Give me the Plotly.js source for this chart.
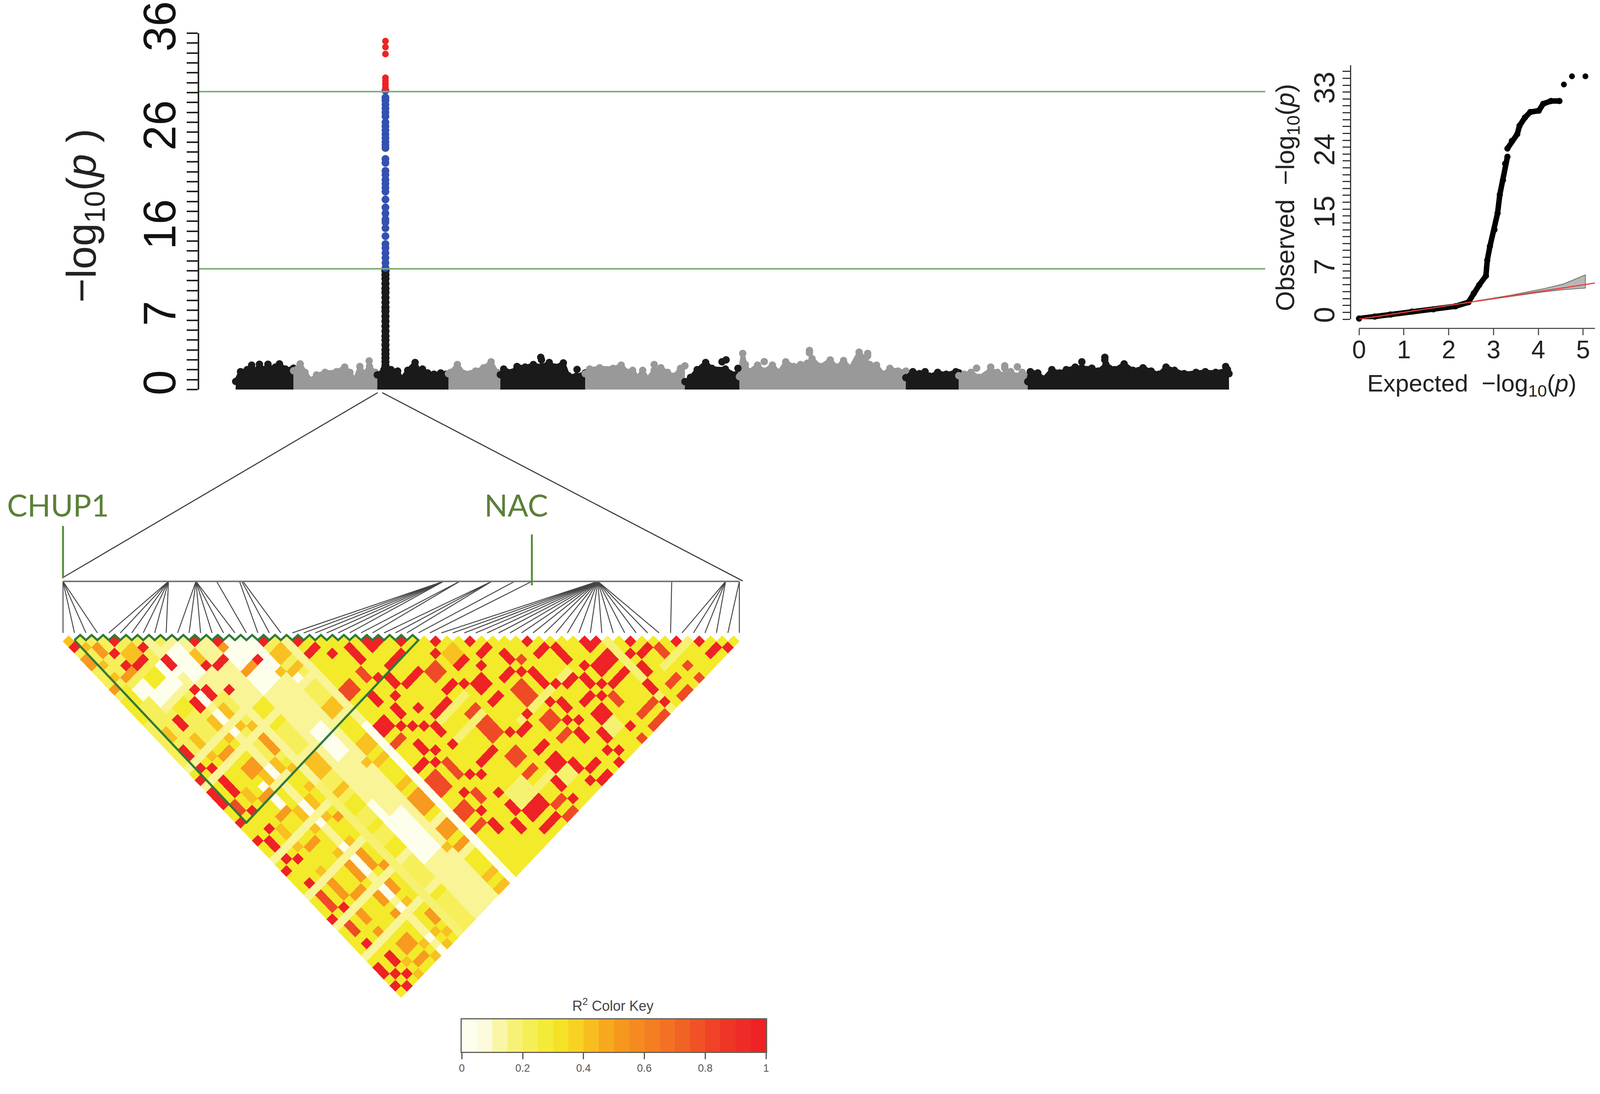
<!DOCTYPE html>
<html>
<head>
<meta charset="utf-8">
<script src="https://cdn.plot.ly/plotly-3.0.1.min.js"></script>
<style>html,body{margin:0;padding:0;background:#fff;overflow:hidden}</style>
</head>
<body>
<div id="chart"></div>
<script>
const W = 4317, H = 2800;
const FONT = '"Liberation Sans", Arial, sans-serif';

// Manhattan plot: top of the point cloud per chromosome (position, -log10 p)
const chrStart = [0, 15.6, 38.2, 57.4, 71.4, 94.3, 121.2, 135.9, 180.8, 195.1, 213.7];
const chrEnd = [15.6, 38.2, 57.4, 71.4, 94.3, 121.2, 135.9, 180.8, 195.1, 213.7, 268];
const chr1Pos = [0, 1.3, 3.1, 4.3, 5.3, 6.4, 7.6, 8.7, 9.8, 10.7, 11.8, 13.4, 14.7, 15.6];
const chr1Top = [.82, 1.81, 2.01, 2.47, 1.87, 2.56, 2.01, 2.56, 2.07, 2.27, 2.6, 2.07, 1.94, 2.16];
const chr2Pos = [15.6, 17.4, 18.7, 20.3, 21.8, 24.1, 27.2, 29.4, 30.8, 32.1, 33.5, 34.6, 36.1, 37.7, 38.2];
const chr2Top = [1.9, 2.6, 1.74, .95, 1.48, 1.74, 1.81, 2.27, 1.74, .95, 2.33, 1.61, 2.33, 1.74, 1.5];
const chr3Pos = [38.2, 40, 41.9, 43.7, 44.8, 46.4, 48.4, 49.5, 50.4, 51.8, 53.5, 55.3, 56.7, 57.4];
const chr3Top = [1.48, 2.0, 2.01, 1.87, 1.08, 1.94, 2.73, 1.87, 2.07, 1.68, 1.55, 1.68, 1.55, 1.5];
const chr4Pos = [57.4, 58, 59.8, 61.6, 64.7, 66.9, 68.9, 70.5, 71.4];
const chr4Top = [1.6, 1.74, 2.53, 1.61, 1.87, 2.2, 2.8, 1.74, 1.55];
const chr5Pos = [71.4, 72.3, 74.5, 75.9, 78.1, 80.3, 82.6, 84.6, 86.1, 88.4, 89.7, 91.9, 94.3];
const chr5Top = [1.5, 2.07, 1.74, 2.33, 2.27, 2.53, 2.33, 2.73, 2.27, 2.69, 1.41, 1.35, 1.68];
const chr6Pos = [94.3, 95.5, 98.2, 101.8, 104, 105.8, 107.1, 108.5, 109.8, 111.1, 112.9, 114.7, 116.5, 118.3, 120, 121.2];
const chr6Top = [1.6, 2.07, 2.2, 2.14, 2.47, 1.74, 1.94, 1.22, 1.94, 1.08, 1.94, 2.2, 1.74, 1.35, 2.14, 2.4];
const chr7Pos = [121.2, 122.7, 124.5, 126.8, 128.5, 132.1, 134.8, 135.9];
const chr7Top = [.8, 1.22, 2.01, 2.73, 2.14, 2.07, 1.48, 1.3];
const chr8Pos = [135.9, 136.8, 137.5, 138.5, 140.8, 142.6, 144.8, 146.6, 148.4, 150.6, 152.4, 154.2, 155.5, 157.7, 160.4, 162.2, 164, 165.8, 168.2, 169.8, 171.1, 172.9, 174.7, 176.5, 178.7, 180.8];
const chr8Top = [1.3, 3.65, 2.53, 1.81, 2.47, 1.87, 2.47, 1.74, 2.8, 2.33, 2.53, 2.66, 3.12, 2.33, 2.99, 2.27, 2.93, 2.14, 3.78, 3.06, 2.53, 2.47, 1.55, 2.14, 1.87, 1.87];
const chr9Pos = [180.8, 182.7, 184.5, 186, 187.2, 189.4, 191.7, 194.3, 195.1];
const chr9Top = [1.2, 1.81, 1.61, 1.81, 1.35, 1.74, 1.55, 1.81, 1.7];
const chr10Pos = [195.1, 196.6, 198.4, 200.6, 203.7, 205.5, 207.3, 209.1, 210.9, 212.2, 213.7];
const chr10Top = [1.4, 1.55, 1.74, 1.22, 2.01, 1.74, 1.48, 1.81, 1.35, 1.74, 1.4];
const chr11Pos = [213.7, 214.4, 216.4, 218, 220.2, 222.3, 224.1, 226.5, 228.3, 231, 232.7, 234.8, 237.2, 239.7, 242.1, 244.8, 247, 249.1, 251, 253.3, 255.9, 259.1, 261.6, 264.4, 267.6, 268];
const chr11Top = [.8, 1.81, 1.68, 1.08, 2.01, 1.68, 2.01, 2.27, 2.2, 2.16, 1.87, 2.53, 2.01, 2.6, 1.94, 2.2, 1.87, 1.55, 2.27, 1.94, 1.61, 1.74, 1.81, 1.74, 2.01, 1.6];
const chrPos = [chr1Pos, chr2Pos, chr3Pos, chr4Pos, chr5Pos, chr6Pos, chr7Pos, chr8Pos, chr9Pos, chr10Pos, chr11Pos];
const chrTop = [chr1Top, chr2Top, chr3Top, chr4Top, chr5Top, chr6Top, chr7Top, chr8Top, chr9Top, chr10Top, chr11Top];
const chrColor = ['#1a1a1a', '#999999'];

// isolated points above the cloud
const blackOutPos = [82.3, 82.5, 92.1, 131.2, 132.3, 135.5, 228.3, 234.5, 234.5, 267.1];
const blackOutVal = [3.26, 3.0, 2.03, 2.8, 3.0, 2.14, 2.8, 3.26, 3.0, 2.33];
const grayOutPos = [36, 112.9, 142.6, 154.8, 170.5, 199.9, 203.7, 207.5, 210.9, 154.8, 170.5, 207.5];
const grayOutVal = [2.89, 2.53, 2.82, 3.95, 3.65, 2.16, 2.27, 2.16, 2.3, 3.7, 3.4, 2.4];

// the peak on chromosome 3
const peakPos = 40.4;
const peakRed = [35.2, 34.6, 33.9, 31.5, 31.2, 30.9, 30.6, 30.4];
const peakBlue = [30.2, 29.5, 29.2, 28.8, 28.4, 28, 27.6, 27, 26.6, 26.2, 25.8, 25.4, 25, 24.7, 24.4, 23.3, 22.9, 22.1, 21.7, 21.2, 20.8, 20.4, 20, 19.2, 18.4, 17.8, 17.2, 16.9, 16.3, 15.5, 14.7, 14.3, 13.8, 13.3, 12.8, 12.3];
const peakBlack = [12, 11.6, 11.2, 10.7, 10.2, 9.8, 9.3, 8.8, 8.3, 7.9, 7.4, 6.9, 6.4, 5.9, 5.4, 5, 4.5, 4, 3.6, 3.2, 2.8, 2.4, 2, 1.6, 1.2];
const thresholds = [30.1, 12.2];
const manhattanTicks = [0, 7, 16, 26, 36];

// QQ plot
const qqExp = [0, .35, .7, 1.18, 1.66, 2.15, 2.44, 2.56, 2.68, 2.83, 2.86, 2.92, 3.02, 3.09, 3.14, 3.21, 3.26, 3.31, null, 3.31, 3.41, 3.53, 3.58, 3.7, 3.82, 4.01, 4.11, 4.28, 4.47];
const qqObs = [.1, .38, .68, 1.1, 1.44, 1.88, 2.47, 3.77, 4.97, 6.3, 8.56, 10.6, 13, 15.4, 18.1, 20.2, 22.6, 23.6, null, 24.8, 25.9, 26.9, 28.1, 29.3, 30.1, 30.3, 31.3, 31.7, 31.7];
const qqTopExp = [4.57, 4.75, 5.05];
const qqTopObs = [34.1, 35.3, 35.3];
const ciExp = [2.6, 3.4, 4.08, 4.57, 5.05, 5.05, 4.57, 4.08, 3.4, 2.6];
const ciObs = [2.65, 3.5, 4.38, 5.14, 6.44, 4.52, 4.3, 3.95, 3.32, 2.57];
const nullLineX = [-.18, 5.27];
const nullLineY = [-.18, 5.27];
const qqYTicks = [0, 7, 15, 24, 33];
const qqXTicks = [0, 1, 2, 3, 4, 5];

// LD triangle: blocks of SNP pairs [firstA, lastA, firstB, lastB], later groups overwrite earlier ones
const snpCount = 60;
const lightBlocks = [[0, 19, 1, 59]];
const paleBlocks = [[7, 7, 8, 59], [10, 10, 11, 34], [19, 19, 20, 33], [11, 12, 13, 22], [13, 16, 23, 37], [8, 9, 10, 18], [5, 6, 13, 14], [0, 9, 22, 22], [0, 18, 25, 25], [6, 18, 31, 31], [0, 10, 37, 37], [0, 10, 43, 43], [0, 18, 48, 48], [0, 18, 53, 53], [3, 10, 14, 15], [13, 16, 51, 59], [16, 16, 38, 50], [13, 13, 38, 40], [14, 15, 38, 43]];
const whiteBlocks = [[7, 7, 17, 18], [7, 7, 20, 21], [7, 7, 23, 23], [7, 7, 29, 30], [7, 7, 35, 36], [7, 7, 38, 38], [7, 7, 42, 42], [7, 7, 44, 46], [7, 7, 49, 50], [7, 7, 52, 52], [7, 7, 57, 57], [7, 7, 59, 59], [19, 19, 34, 59], [13, 16, 15, 22], [13, 13, 41, 50], [14, 15, 44, 50], [14, 15, 30, 34], [8, 9, 14, 15], [17, 17, 24, 24], [5, 5, 30, 33], [3, 6, 13, 14], [6, 9, 11, 13], [2, 3, 11, 12]];
const yellowBlocks = [[20, 58, 21, 59], [0, 6, 23, 59], [8, 9, 30, 59], [11, 12, 23, 26], [4, 5, 15, 17], [4, 5, 11, 12], [1, 1, 10, 12], [0, 0, 11, 14], [11, 12, 39, 40], [11, 12, 43, 43], [11, 12, 46, 48], [11, 12, 53, 54], [17, 18, 30, 59]];
const rightPaleBlocks = [[26, 30, 40, 40], [25, 30, 43, 43], [26, 28, 52, 54], [40, 41, 55, 56], [32, 33, 55, 56], [47, 47, 48, 59], [33, 38, 47, 47], [50, 54, 55, 55], [40, 41, 47, 47], [29, 32, 54, 54], [10, 10, 35, 59]];
const goldBlocks = [[0, 0, 1, 1], [1, 1, 3, 3], [1, 1, 6, 6], [4, 5, 7, 8], [1, 1, 8, 8], [10, 10, 13, 14], [17, 18, 20, 21], [16, 16, 22, 22], [17, 18, 23, 23], [8, 8, 20, 21], [6, 6, 20, 21], [8, 8, 23, 23], [9, 9, 24, 24], [1, 1, 17, 18], [3, 3, 20, 21], [6, 6, 23, 23], [17, 18, 29, 30], [17, 18, 35, 36], [3, 3, 23, 23], [6, 6, 29, 30], [3, 3, 29, 30], [8, 8, 29, 30], [9, 9, 31, 31], [9, 9, 34, 34], [8, 8, 35, 36], [6, 6, 35, 36], [8, 8, 38, 38], [11, 12, 37, 37], [11, 12, 32, 34], [16, 16, 37, 37], [17, 18, 38, 38], [17, 18, 42, 42], [3, 3, 35, 36], [6, 6, 38, 38], [3, 3, 38, 38], [3, 3, 42, 42], [8, 8, 42, 42], [6, 6, 42, 42], [8, 8, 52, 52], [8, 8, 57, 57], [9, 9, 58, 58], [6, 6, 57, 57], [8, 8, 59, 59], [6, 6, 59, 59], [3, 3, 57, 57], [3, 3, 59, 59], [16, 16, 51, 51], [17, 18, 57, 57], [17, 18, 59, 59], [32, 33, 35, 36]];
const orangeBlocks = [[2, 2, 4, 5], [0, 0, 4, 5], [13, 13, 15, 15], [13, 14, 19, 19], [2, 2, 9, 9], [0, 0, 9, 9], [3, 3, 9, 9], [9, 9, 26, 28], [4, 5, 24, 24], [5, 6, 27, 28], [4, 5, 31, 31], [4, 5, 34, 34], [9, 9, 39, 39], [4, 5, 39, 39], [9, 9, 47, 47], [8, 8, 44, 46], [6, 6, 44, 46], [3, 3, 44, 46], [4, 5, 47, 47], [6, 6, 49, 50], [8, 8, 49, 50], [3, 3, 49, 50], [3, 3, 52, 52], [6, 6, 52, 52], [9, 9, 55, 56], [4, 5, 55, 56], [4, 5, 58, 58], [17, 18, 44, 46], [17, 18, 49, 50], [17, 18, 52, 52]];
const deepBlocks = [[20, 21, 29, 30], [23, 23, 29, 30], [1, 1, 29, 30], [29, 30, 35, 36], [29, 30, 42, 42], [35, 36, 44, 46], [51, 51, 53, 54], [35, 36, 49, 50], [43, 43, 53, 54], [44, 46, 57, 57], [44, 46, 59, 59], [49, 50, 59, 59], [49, 50, 57, 57], [52, 52, 59, 59], [42, 42, 59, 59], [35, 36, 52, 52], [20, 21, 38, 38], [23, 23, 44, 46], [20, 21, 44, 46], [29, 30, 44, 46], [29, 30, 49, 50], [29, 30, 52, 52], [29, 30, 57, 57], [29, 30, 59, 59], [23, 23, 49, 50], [20, 21, 49, 50], [20, 21, 52, 52], [1, 1, 44, 46], [1, 1, 49, 50], [38, 38, 42, 42], [52, 52, 57, 57]];
const redBlocks = [[0, 0, 2, 2], [4, 4, 5, 5], [3, 3, 6, 6], [6, 6, 8, 8], [4, 5, 9, 9], [3, 3, 8, 8], [7, 7, 11, 12], [11, 11, 12, 12], [10, 10, 15, 15], [11, 12, 16, 16], [13, 13, 14, 14], [15, 15, 19, 19], [17, 17, 18, 18], [20, 20, 21, 21], [20, 21, 23, 23], [22, 22, 25, 25], [24, 24, 26, 28], [26, 26, 27, 27], [27, 27, 28, 28], [26, 26, 28, 28], [29, 29, 30, 30], [26, 28, 31, 31], [24, 24, 31, 31], [25, 25, 32, 33], [26, 28, 34, 34], [22, 22, 32, 33], [24, 24, 34, 34], [23, 23, 35, 36], [25, 25, 37, 37], [26, 28, 39, 39], [20, 21, 35, 36], [22, 22, 37, 37], [23, 23, 38, 38], [24, 24, 39, 39], [25, 25, 40, 41], [25, 25, 43, 43], [22, 22, 40, 41], [23, 23, 42, 42], [20, 21, 42, 42], [22, 22, 43, 43], [24, 24, 47, 47], [25, 25, 48, 48], [26, 28, 47, 47], [34, 34, 47, 47], [31, 31, 47, 47], [32, 33, 48, 48], [32, 33, 43, 43], [32, 33, 53, 54], [32, 33, 51, 51], [32, 32, 33, 33], [31, 31, 34, 34], [35, 35, 36, 36], [35, 36, 38, 38], [32, 33, 37, 37], [34, 34, 39, 39], [32, 33, 40, 41], [31, 31, 39, 39], [29, 30, 38, 38], [37, 37, 40, 41], [35, 36, 42, 42], [37, 37, 43, 43], [38, 38, 44, 46], [39, 39, 47, 47], [40, 41, 48, 48], [40, 41, 43, 43], [42, 42, 44, 46], [43, 43, 48, 48], [40, 40, 41, 41], [49, 49, 50, 50], [53, 53, 54, 54], [55, 55, 56, 56], [45, 45, 46, 46], [46, 46, 47, 47], [45, 45, 47, 47], [44, 46, 49, 50], [48, 48, 51, 51], [49, 50, 52, 52], [55, 56, 58, 58], [57, 57, 59, 59], [48, 48, 53, 54], [47, 47, 55, 56], [44, 46, 52, 52], [42, 42, 49, 50], [43, 43, 51, 51], [42, 42, 52, 52], [40, 41, 51, 51], [40, 41, 53, 54], [37, 37, 48, 48], [38, 38, 49, 50], [37, 37, 51, 51], [38, 38, 52, 52], [37, 37, 53, 54], [39, 39, 55, 56], [42, 42, 57, 57], [47, 47, 58, 58], [34, 34, 55, 56], [35, 36, 57, 57], [35, 36, 59, 59], [34, 34, 58, 58], [38, 38, 57, 57], [39, 39, 58, 58], [38, 38, 59, 59], [31, 31, 55, 56], [26, 28, 55, 56], [31, 31, 58, 58], [26, 28, 58, 58], [25, 25, 53, 54], [24, 24, 55, 56], [25, 25, 51, 51], [22, 22, 48, 48], [22, 22, 51, 51], [22, 22, 53, 54], [7, 7, 16, 16], [8, 8, 17, 18], [10, 10, 19, 19], [6, 6, 17, 18], [3, 3, 17, 18], [1, 1, 20, 21], [1, 1, 23, 23], [2, 2, 24, 24], [0, 0, 24, 24], [2, 2, 26, 28], [0, 0, 26, 28], [2, 2, 31, 31], [0, 0, 31, 31], [2, 2, 34, 34], [0, 0, 34, 34], [1, 1, 35, 36], [1, 1, 38, 38], [2, 2, 39, 39], [0, 0, 39, 39], [1, 1, 42, 42], [2, 2, 47, 47], [0, 0, 47, 47], [1, 1, 52, 52], [2, 2, 55, 56], [0, 0, 55, 56], [1, 1, 57, 57], [2, 2, 58, 58], [0, 0, 58, 58], [1, 1, 59, 59]];
const ldGroups = [
  [lightBlocks, .22], [yellowBlocks, .3], [paleBlocks, .14], [rightPaleBlocks, .18], [whiteBlocks, .03],
  [goldBlocks, .42], [orangeBlocks, .52], [deepBlocks, .8], [redBlocks, .97]
];

// where each SNP sits on the map line above the triangle
const snpMapPos = [0, 0, 0, 0, 9.2, 9.2, 9.2, 9.2, 9.2, 9.2, 11.6, 11.6, 11.6, 11.6, 11.6, 11.6, 13.4, 15.4, 15.6, 15.7,
  33.2, 33.2, 33.2, 33.2, 33.2, 33.2, 34.6, 34.6, 37.4, 37.4, 37.4, 39.4, 40.9,
  46.65, 46.65, 46.65, 46.65, 46.65, 46.65, 46.65, 46.65, 46.65, 46.65, 46.65, 46.65, 46.65, 46.65, 46.65, 46.65, 46.65, 46.65, 46.65, 46.65,
  53.1, 57.8, 57.8, 57.8, 57.8, 59, 59];
const blockFirstSnp = 1, blockLastSnp = 31;

// color key
const keyLevels = [.025, .075, .125, .175, .225, .275, .325, .375, .425, .475, .525, .575, .625, .675, .725, .775, .825, .875, .925, .975];
const keyTicks = [0, .2, .4, .6, .8, 1];
const keyTickText = ['0', '0.2', '0.4', '0.6', '0.8', '1'];
const r2Scale = [[0, '#fffff6'], [.08, '#fdfbdc'], [.16, '#f8f27e'], [.3, '#f3ea2a'], [.38, '#f8d021'], [.5, '#f79f1d'], [.7, '#f26a25'], [.85, '#ee3a26'], [1, '#ee1c25']];

// panel geometry in reference pixels, as fractions of the page
const px = v => v / W;
const py = v => 1 - v / H;
const SNP_W = 30.93, ROW_H = SNP_W / 2, LD_X0 = 170, LD_Y0 = 1626;

const traces = [];

// --- Manhattan ---
chrPos.forEach((pos, i) => {
  const color = chrColor[i % 2];
  traces.push({
    type: 'scatter', mode: 'lines', x: [chrStart[i], chrEnd[i]], y: [0, 0],
    line: { color, width: 14 }, cliponaxis: false, hoverinfo: 'skip', showlegend: false
  });
  traces.push({
    type: 'scatter', mode: 'lines+markers', x: pos, y: chrTop[i], fill: 'tozeroy', fillcolor: color,
    line: { color, width: 10 }, marker: { color, size: 19 }, cliponaxis: false, showlegend: false
  });
});
const dots = (x, y, color, size, xa, ya) => ({
  type: 'scatter', mode: 'markers', x, y, xaxis: xa, yaxis: ya,
  marker: { color, size }, cliponaxis: false, showlegend: false
});
traces.push(dots(grayOutPos, grayOutVal, chrColor[1], 19, 'x', 'y'));
traces.push(dots(blackOutPos, blackOutVal, chrColor[0], 19, 'x', 'y'));
traces.push({
  type: 'scatter', mode: 'lines+markers', x: peakBlack.map(() => peakPos), y: peakBlack,
  line: { color: chrColor[0], width: 18 }, marker: { color: chrColor[0], size: 21 }, showlegend: false
});
traces.push(dots(peakBlue.map(() => peakPos), peakBlue, '#3450b0', 20, 'x', 'y'));
traces.push(dots(peakRed.map(() => peakPos), peakRed, '#ee2222', 17, 'x', 'y'));
thresholds.forEach(t => traces.push({
  type: 'scatter', mode: 'lines', x: [-9.9, 277.8], y: [t, t],
  line: { color: '#7cad78', width: 4 }, hoverinfo: 'skip', showlegend: false
}));

// --- QQ ---
traces.push({
  type: 'scatter', mode: 'lines', x: ciExp, y: ciObs, xaxis: 'x2', yaxis: 'y2', fill: 'toself',
  fillcolor: '#b8b8b8', line: { color: '#6f6f6f', width: 2 }, cliponaxis: false, showlegend: false
});
traces.push({
  type: 'scatter', mode: 'lines+markers', x: qqExp, y: qqObs, xaxis: 'x2', yaxis: 'y2',
  line: { color: '#000', width: 14 }, marker: { color: '#000', size: 16 }, cliponaxis: false, showlegend: false
});
traces.push(dots(qqTopExp, qqTopObs, '#000', 15, 'x2', 'y2'));
traces.push({
  type: 'scatter', mode: 'lines', x: nullLineX, y: nullLineY, xaxis: 'x2', yaxis: 'y2',
  line: { color: '#e8403a', width: 3 }, cliponaxis: false, showlegend: false
});

// --- LD triangle ---
const cellValue = {};
ldGroups.forEach(([blocks, r2]) => blocks.forEach(([a0, a1, b0, b1]) => {
  for (let a = a0; a <= a1; a++) for (let b = b0; b <= b1; b++) {
    if (a < b && b < snpCount) cellValue[a + '_' + b] = r2;
  }
}));
const cellX = [], cellD = [], cellR2 = [];
Object.keys(cellValue).forEach(k => {
  const [a, b] = k.split('_').map(Number);
  cellX.push((a + b) / 2); cellD.push(b - a); cellR2.push(cellValue[k]);
});
const MAP_D = (1488 - LD_Y0) / ROW_H;
const fanX = [], fanY = [];
snpMapPos.forEach((p, a) => { fanX.push(p, a, null); fanY.push(MAP_D, -0.4, null); });
traces.push({
  type: 'scatter', mode: 'lines', x: fanX, y: fanY, xaxis: 'x3', yaxis: 'y3',
  line: { color: '#454545', width: 2.4 }, hoverinfo: 'skip', showlegend: false
});
traces.push({
  type: 'scatter', mode: 'lines', x: [0, snpCount - 1], y: [MAP_D, MAP_D], xaxis: 'x3', yaxis: 'y3',
  line: { color: '#777', width: 4 }, hoverinfo: 'skip', showlegend: false
});
traces.push({
  type: 'scatter', mode: 'markers', x: cellX, y: cellD, xaxis: 'x3', yaxis: 'y3',
  marker: { symbol: 'diamond', size: 23.6, color: cellR2, cmin: 0, cmax: 1, colorscale: r2Scale, line: { width: 0 } },
  showlegend: false
});
const greenX = [], greenY = [];
for (let s = blockFirstSnp; s < blockLastSnp; s++) { greenX.push(s, s + .5); greenY.push(.8, -.05); }
greenX.push(blockLastSnp, (blockFirstSnp + blockLastSnp) / 2, blockFirstSnp);
greenY.push(.8, 31, .8);
traces.push({
  type: 'scatter', mode: 'lines', x: greenX, y: greenY, xaxis: 'x3', yaxis: 'y3',
  line: { color: '#2f7a3a', width: 5.5 }, hoverinfo: 'skip', showlegend: false
});
// zoom-in lines from the peak, and the two gene stems
const zoomApex = [(1019 - LD_X0) / SNP_W, (1005 - LD_Y0) / ROW_H];
traces.push({
  type: 'scatter', mode: 'lines', xaxis: 'x3', yaxis: 'y3', cliponaxis: false,
  x: [0, zoomApex[0], null, zoomApex[0] + .4, 59.3],
  y: [(1478 - LD_Y0) / ROW_H, zoomApex[1], null, zoomApex[1], (1487 - LD_Y0) / ROW_H],
  line: { color: '#333', width: 2.6 }, hoverinfo: 'skip', showlegend: false
});
traces.push({
  type: 'scatter', mode: 'lines', xaxis: 'x3', yaxis: 'y3',
  x: [0, 0, null, 40.9, 40.9],
  y: [(1346 - LD_Y0) / ROW_H, (1480 - LD_Y0) / ROW_H, null, (1368 - LD_Y0) / ROW_H, (1498 - LD_Y0) / ROW_H],
  line: { color: '#5a8f3c', width: 5 }, hoverinfo: 'skip', showlegend: false
});

// --- color key ---
traces.push({
  type: 'heatmap', x: keyLevels, y: [0], z: [keyLevels], xaxis: 'x4', yaxis: 'y4',
  zmin: 0, zmax: 1, colorscale: r2Scale, showscale: false, hoverinfo: 'skip'
});

const note = (text, x, y, size, color, extra) => Object.assign({
  text, x: px(x), y: py(y), xref: 'paper', yref: 'paper', showarrow: false,
  xanchor: 'center', yanchor: 'middle', font: { family: FONT, size, color }
}, extra || {});
const geneFont = { family: 'Lato, "Noto Sans", sans-serif', size: 78, color: '#5b8038' };

const layout = {
  // the browser window is narrower than the reference, so the figure is fitted to it
  width: window.innerWidth, height: H, paper_bgcolor: '#fff', plot_bgcolor: 'rgba(0,0,0,0)',
  margin: { l: 0, r: 0, t: 0, b: 0 }, showlegend: false,
  xaxis: { domain: [px(537), px(3414)], range: [-9.9, 277.8], visible: false, fixedrange: true },
  yaxis: {
    domain: [py(997), py(85)], range: [0, 36], anchor: 'x', showline: true, linecolor: '#222', linewidth: 4,
    showgrid: false, zeroline: false, tickmode: 'array', tickvals: manhattanTicks, tickangle: -90,
    ticks: 'outside', ticklen: 28, tickwidth: 4, tickcolor: '#222', ticklabelstandoff: -18, ticklabeloverflow: 'allow',
    tickfont: { family: FONT, size: 116, color: '#111' },
    minor: { dtick: 1, ticks: 'outside', ticklen: 28, tickwidth: 4, tickcolor: '#222', showgrid: false }
  },
  xaxis2: {
    domain: [px(3667), px(4303)], range: [0, 5.26], anchor: 'free', position: py(840), showline: true,
    linecolor: '#555', linewidth: 3, showgrid: false, zeroline: false, tickmode: 'array', tickvals: qqXTicks,
    ticks: 'outside', ticklen: 16, tickwidth: 3, tickcolor: '#555', ticklabelstandoff: -18, ticklabeloverflow: 'allow',
    tickfont: { family: FONT, size: 64, color: '#222' }
  },
  yaxis2: {
    domain: [py(817), py(167)], range: [0, 36.9], anchor: 'free', position: px(3644), side: 'left', showline: true,
    linecolor: '#333', linewidth: 3, showgrid: false, zeroline: false, tickmode: 'array', tickvals: qqYTicks, tickangle: -90,
    ticks: 'outside', ticklen: 19, tickwidth: 3, tickcolor: '#333', ticklabelstandoff: -8, ticklabeloverflow: 'allow',
    tickfont: { family: FONT, size: 74, color: '#222' },
    minor: { dtick: 1, ticks: 'outside', ticklen: 19, tickwidth: 3, tickcolor: '#333', showgrid: false }
  },
  xaxis3: {
    domain: [0, px(2100)], range: [-LD_X0 / SNP_W, (2100 - LD_X0) / SNP_W], visible: false, fixedrange: true, anchor: 'y3'
  },
  yaxis3: {
    domain: [py(2600), py(1000)], range: [(2600 - LD_Y0) / ROW_H, (1000 - LD_Y0) / ROW_H], visible: false, fixedrange: true, anchor: 'x3'
  },
  xaxis4: {
    domain: [px(1246), px(2067)], range: [0, 1], anchor: 'y4', showline: true, mirror: true, linecolor: '#665f55', linewidth: 3,
    showgrid: false, zeroline: false, tickmode: 'array', tickvals: keyTicks, ticktext: keyTickText, ticklabeloverflow: 'allow',
    ticks: 'outside', ticklen: 16, tickwidth: 3, tickcolor: '#555', tickfont: { family: FONT, size: 27, color: '#555' }
  },
  yaxis4: {
    domain: [py(2692), py(2609)], range: [-.5, .5], anchor: 'x4', showline: true, mirror: true, linecolor: '#665f55', linewidth: 3,
    showgrid: false, zeroline: false, showticklabels: false, ticks: ''
  },
  annotations: [
    note('−log<sub>10</sub>(<i>p</i> )', 228, 552, 106, '#222', { textangle: -90 }),
    note('Observed  −log<sub>10</sub>(<i>p</i>)', 3473, 505, 66, '#222', { textangle: -90 }),
    note('Expected  −log<sub>10</sub>(<i>p</i>)', 3971, 985, 62, '#222'),
    note('CHUP1', 156, 1292, 78, '#5b8038', { font: geneFont }),
    note('NAC', 1393, 1292, 78, '#5b8038', { font: geneFont }),
    note('R<sup>2</sup> Color Key', 1654, 2572, 36, '#444')
  ]
};

Plotly.newPlot('chart', traces, layout, { displayModeBar: false, staticPlot: true });
</script>
</body>
</html>
